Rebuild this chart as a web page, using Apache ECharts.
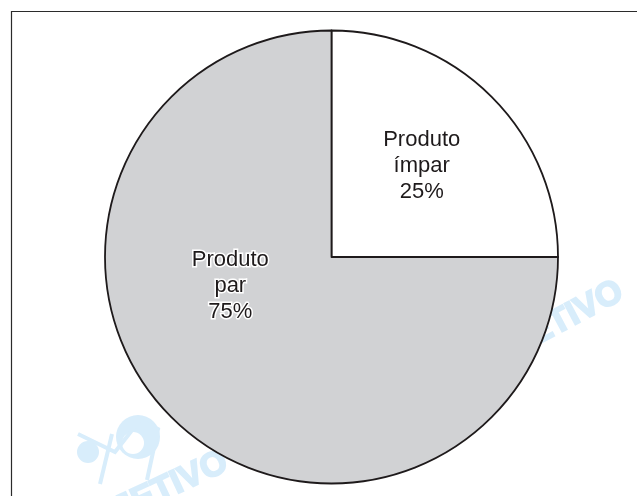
<!DOCTYPE html>
<html>
<head>
<meta charset="utf-8">
<script src="https://cdn.jsdelivr.net/npm/echarts@6/dist/echarts.min.js"></script>
<style>
html,body{margin:0;padding:0;background:#fff;}
#chart{width:637px;height:496px;}
</style>
</head>
<body>
<div id="chart"></div>
<script>
// Data
const categories = ['Produto ímpar', 'Produto par'];
const values = [25, 75];

// Styles (kept separate from the data)
const sliceColors = ['#ffffff', '#d1d2d4'];
const labelOffsets = [[8, -9], [-19, -53]];
const labelHalo = [0, 3];
const inkColor = '#1e1a1b';
const wmColor = '#d8edfb';

const chart = echarts.init(document.getElementById('chart'), null, {renderer: 'canvas'});

const data = categories.map((name, i) => ({
  name: name,
  value: values[i],
  itemStyle: {color: sliceColors[i]},
  label: {
    offset: labelOffsets[i],
    textBorderColor: '#ffffff',
    textBorderWidth: labelHalo[i]
  }
}));

const wmFont = 'bold 34px "Liberation Sans", Arial, sans-serif';

chart.setOption({
  animation: false,
  backgroundColor: '#ffffff',
  graphic: [
    // frame
    {type: 'polyline', z: 0, shape: {points: [[11.5, 500], [11.5, 11.5], [640, 11.5]]},
     style: {stroke: '#2b2b2b', lineWidth: 1.2, fill: null}},
    // watermark logo (bottom-left)
    {type: 'circle', z: 0, shape: {cx: 138, cy: 437, r: 22}, style: {fill: wmColor}},
    {type: 'circle', z: 0, shape: {cx: 133, cy: 443, r: 11}, style: {fill: '#ffffff'}},
    {type: 'circle', z: 0, shape: {cx: 88, cy: 452, r: 11}, style: {fill: wmColor}},
    {type: 'polyline', z: 0, shape: {points: [[78, 434], [115, 452], [140, 420], [158, 429], [147, 480]]},
     style: {stroke: wmColor, lineWidth: 4, fill: null}},
    {type: 'line', z: 0, shape: {x1: 112, y1: 434, x2: 100, y2: 484}, style: {stroke: wmColor, lineWidth: 4}},
    // watermark text
    {type: 'text', z: 0, x: 148, y: 497, rotation: 25 * Math.PI / 180,
     style: {text: 'OBJETIVO', fill: wmColor, stroke: wmColor, lineWidth: 2, font: wmFont,
             align: 'center', verticalAlign: 'middle'}},
    {type: 'text', z: 0, x: 545, y: 330, rotation: 28 * Math.PI / 180,
     style: {text: 'OBJETIVO', fill: wmColor, stroke: wmColor, lineWidth: 2, font: wmFont,
             align: 'center', verticalAlign: 'middle'}}
  ],
  series: [{
    type: 'pie',
    z: 5,
    center: [331.5, 257],
    radius: [0, 226.5],
    startAngle: 90,
    clockwise: true,
    silent: true,
    avoidLabelOverlap: false,
    itemStyle: {borderColor: inkColor, borderWidth: 1.8},
    label: {
      show: true,
      position: 'inside',
      formatter: p => p.name.replace(' ', '\n') + '\n' + p.percent + '%',
      color: inkColor,
      fontFamily: '"Liberation Sans", Arial, sans-serif',
      fontSize: 22,
      lineHeight: 26,
      align: 'center'
    },
    labelLine: {show: false},
    emphasis: {disabled: true},
    data: data
  }]
});
</script>
</body>
</html>
